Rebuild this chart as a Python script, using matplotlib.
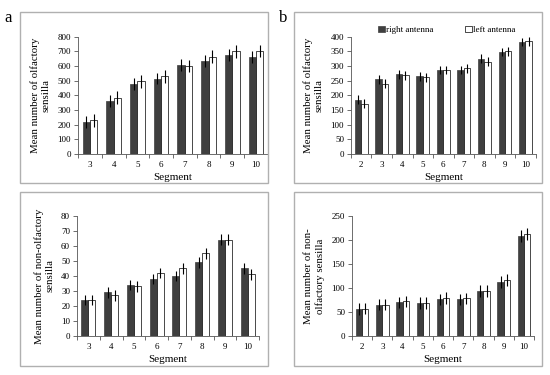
import matplotlib
matplotlib.use("Agg")
import matplotlib.pyplot as plt
from matplotlib.patches import Rectangle, Patch
import numpy as np

plt.rcParams["font.family"] = ["Liberation Serif", "DejaVu Serif"]

# ---- datos
seg_a = [3, 4, 5, 6, 7, 8, 9, 10]
seg_b = [2, 3, 4, 5, 6, 7, 8, 9, 10]

olf_a_right = [220, 360, 480, 515, 605, 635, 675, 660]
olf_a_left = [230, 385, 495, 530, 600, 665, 700, 705]
olf_a_err_right = [42, 40, 40, 40, 40, 42, 42, 42]
olf_a_err_left = [42, 42, 42, 42, 42, 45, 42, 42]

olf_b_right = [185, 255, 272, 265, 287, 287, 325, 348, 382]
olf_b_left = [172, 240, 268, 262, 287, 292, 315, 350, 385]
olf_b_err_right = [15, 15, 15, 15, 15, 15, 15, 15, 15]
olf_b_err_left = [15, 15, 15, 15, 15, 15, 15, 15, 15]

non_a_right = [24, 29, 34, 38, 40, 49, 64, 45]
non_a_left = [24, 27, 33, 42, 45, 55, 64, 41]
non_a_err_right = [3.5, 3.5, 3.5, 3.5, 3.5, 3.5, 3.5, 3.5]
non_a_err_left = [3.5, 3.5, 3.5, 3.5, 3.5, 3.5, 3.5, 3.5]

non_b_right = [56, 65, 70, 68, 76, 76, 93, 112, 208]
non_b_left = [57, 65, 72, 69, 79, 78, 94, 116, 212]
non_b_err_right = [12, 12, 12, 12, 12, 12, 12, 12, 12]
non_b_err_left = [12, 12, 12, 12, 12, 12, 12, 12, 12]

DARK = "#3f3f3f"
BOX = "#b0b0b0"

fig = plt.figure(figsize=(5.5, 3.75), dpi=100)


def panel(pos, segs, right, left, err_r, err_l, ymax, ystep, ylabel):
    ax = fig.add_axes(pos)
    x = np.arange(len(segs))
    w = 0.31
    ax.bar(x - w / 2, right, w, color=DARK, edgecolor=DARK, linewidth=0.5,
           yerr=err_r, error_kw=dict(elinewidth=0.8, ecolor="black", capsize=0))
    ax.bar(x + w / 2, left, w, color="white", edgecolor="black", linewidth=0.5,
           yerr=err_l, error_kw=dict(elinewidth=0.8, ecolor="black", capsize=0))
    ax.set_xlim(-0.5, len(segs) - 0.5)
    ax.set_ylim(0, ymax)
    ax.set_yticks(np.arange(0, ymax + 1, ystep))
    ax.set_xticks(x)
    ax.set_xticklabels([str(s) for s in segs])
    ax.set_xticks(np.arange(-0.5, len(segs)), minor=True)
    ax.tick_params(axis="x", which="major", length=0, labelsize=6.5, pad=5)
    ax.tick_params(axis="x", which="minor", length=3, width=0.6, color="#555555")
    ax.tick_params(axis="y", length=3, width=0.6, color="#555555", labelsize=6.5, pad=2)
    for s in ("top", "right"):
        ax.spines[s].set_visible(False)
    for s in ("left", "bottom"):
        ax.spines[s].set_linewidth(0.6)
        ax.spines[s].set_color("#555555")
    ax.set_xlabel("Segment", fontsize=8, labelpad=3)
    ax.set_ylabel(ylabel, fontsize=7.8, labelpad=5)
    return ax


# cajas grises alrededor de cada panel
for (x0, y0, bw, bh) in [(0.037, 0.512, 0.451, 0.456), (0.534, 0.512, 0.451, 0.456),
                         (0.037, 0.024, 0.451, 0.464), (0.534, 0.024, 0.451, 0.464)]:
    fig.patches.append(Rectangle((x0, y0), bw, bh, transform=fig.transFigure,
                                 fill=False, edgecolor=BOX, linewidth=1.0))

panel([0.142, 0.589, 0.345, 0.313], seg_a, olf_a_right, olf_a_left,
      olf_a_err_right, olf_a_err_left, 800, 100,
      "Mean number of olfactory\nsensilla")
ax_b = panel([0.638, 0.589, 0.336, 0.313], seg_b, olf_b_right, olf_b_left,
             olf_b_err_right, olf_b_err_left, 400, 50,
             "Mean number of olfactory\nsensilla")
panel([0.140, 0.104, 0.331, 0.321], seg_a, non_a_right, non_a_left,
      non_a_err_right, non_a_err_left, 80, 10,
      "Mean number of non-olfactory\nsensilla")
panel([0.640, 0.104, 0.331, 0.321], seg_b, non_b_right, non_b_left,
      non_b_err_right, non_b_err_left, 250, 50,
      "Mean number of non-\nolfactory sensilla")

handles = [Patch(facecolor=DARK, edgecolor=DARK, linewidth=0.5),
           Patch(facecolor="white", edgecolor="black", linewidth=0.5)]
ax_b.legend(handles, ["right antenna", "left antenna"], ncol=2, frameon=False,
            fontsize=6.5, loc="lower center", bbox_to_anchor=(0.52, 0.97),
            handlelength=0.7, handleheight=0.7, handletextpad=0.2,
            columnspacing=3.5, borderpad=0.2)

fig.text(0.008, 0.942, "a", fontsize=12)
fig.text(0.508, 0.942, "b", fontsize=12)

fig.savefig("out.png", dpi=100)
